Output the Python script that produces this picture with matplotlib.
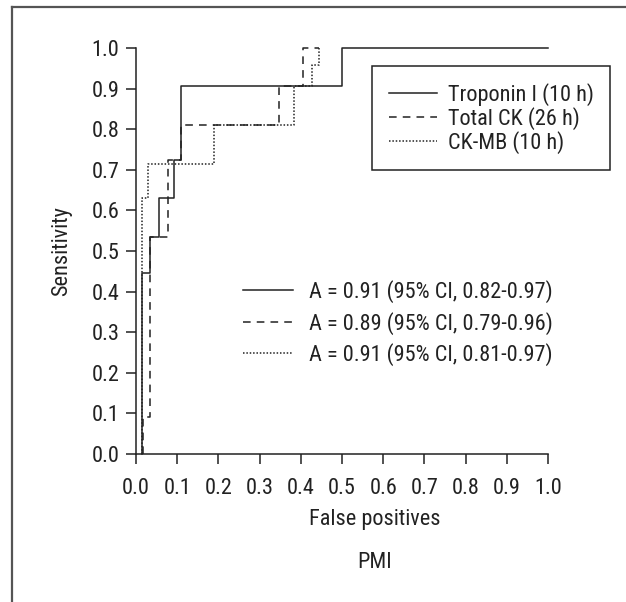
import matplotlib
matplotlib.use("Agg")
import matplotlib.pyplot as plt
from matplotlib.lines import Line2D

plt.rcParams['font.family'] = ['Liberation Sans Narrow', 'Roboto Condensed',
                               'Arial Narrow', 'Liberation Sans', 'DejaVu Sans']

# ROC operating points (false positive rate, sensitivity)
tni_fpr = [0.015, 0.015, 0.034, 0.055, 0.093, 0.11, 0.50, 1.0]
tni_sens = [0.0, 0.447, 0.534, 0.631, 0.723, 0.907, 1.0, 1.0]

ck_fpr = [0.016, 0.016, 0.034, 0.078, 0.11, 0.346, 0.406, 0.444]
ck_sens = [0.0, 0.09, 0.534, 0.723, 0.81, 0.907, 1.0, 1.0]

ckmb_fpr = [0.014, 0.014, 0.030, 0.189, 0.383, 0.428, 0.444]
ckmb_sens = [0.0, 0.631, 0.715, 0.81, 0.907, 0.959, 1.0]

names = ['Troponin I (10 h)', 'Total CK (26 h)', 'CK-MB (10 h)']
auc_labels = ['A = 0.91 (95% CI, 0.82-0.97)',
              'A = 0.89 (95% CI, 0.79-0.96)',
              'A = 0.91 (95% CI, 0.81-0.97)']
ticks = [0.0, 0.1, 0.2, 0.3, 0.4, 0.5, 0.6, 0.7, 0.8, 0.9, 1.0]

ink = '#222222'
fs = 16
W, H = 626, 602
fig = plt.figure(figsize=(W / 100, H / 100), dpi=100)
ax = fig.add_axes([136 / W, 1 - 454 / H, 412 / W, 406 / H])

styles = [dict(ls='-'), dict(ls=(0, (5, 4))), dict(ls=(0, (1, 1.2)))]
curves = [(tni_fpr, tni_sens), (ck_fpr, ck_sens), (ckmb_fpr, ckmb_sens)]
for (fx, sy), st in zip(curves, styles):
    ax.plot(fx, sy, drawstyle='steps-post', color=ink, lw=1.1, clip_on=False, **st)

ax.set_xlim(0, 1)
ax.set_ylim(0, 1)
ax.set_xticks(ticks)
ax.set_yticks(ticks)
ax.set_xticklabels([f'{t:.1f}' for t in ticks])
ax.set_yticklabels([f'{t:.1f}' for t in ticks])
ax.tick_params(axis='both', direction='out', length=7, width=1.1, color=ink,
               labelcolor=ink, labelsize=fs)
ax.tick_params(axis='x', pad=10)
ax.tick_params(axis='y', pad=5)
for s in ['top', 'right']:
    ax.spines[s].set_visible(False)
for s in ['left', 'bottom']:
    ax.spines[s].set_color(ink)
    ax.spines[s].set_linewidth(1.1)

handles = [Line2D([], [], color=ink, lw=1.1, **st) for st in styles]
leg1 = ax.legend(handles, names, loc='upper left', bbox_to_anchor=(0.573, 0.956),
                 borderaxespad=0, fontsize=fs, handlelength=2.15, handletextpad=0.5,
                 borderpad=0.75, labelspacing=0.05, fancybox=False, framealpha=1,
                 edgecolor=ink, labelcolor=ink)
leg1.get_frame().set_linewidth(1.1)
ax.add_artist(leg1)
ax.legend(handles, auc_labels, loc='upper left', bbox_to_anchor=(0.238, 0.45),
          borderaxespad=0, fontsize=fs, handlelength=2.25, handletextpad=0.72,
          labelspacing=0.38, frameon=False, labelcolor=ink)

fig.text(375 / W, 1 - 520 / H, 'False positives', ha='center', va='center',
         fontsize=fs, color=ink)
fig.text(375 / W, 1 - 563 / H, 'PMI', ha='center', va='center', fontsize=fs, color=ink)
fig.text(62 / W, 1 - 251 / H, 'Sensitivity', ha='center', va='center',
         rotation=90, fontsize=fs, color=ink)

# panel frame (left and top edges)
fig.add_artist(Line2D([12 / W, 12 / W], [1 - 7 / H, 0], transform=fig.transFigure,
                      color='#555555', lw=1.6))
fig.add_artist(Line2D([12 / W, 1], [1 - 7 / H, 1 - 7 / H], transform=fig.transFigure,
                      color='#555555', lw=1.6))

fig.savefig('out.png', dpi=100, facecolor='white')
